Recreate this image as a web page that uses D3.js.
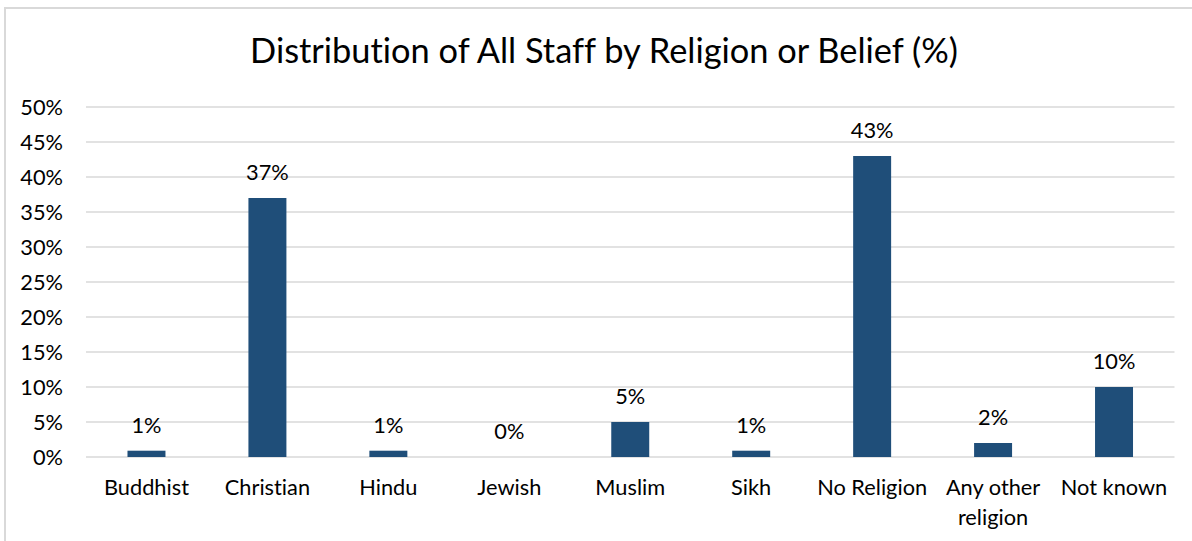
<!DOCTYPE html>
<html><head><meta charset="utf-8">
<script src="https://cdn.jsdelivr.net/npm/d3@7"></script>
<style>body{margin:0;background:#fff}svg{display:block}text{font-family:Lato,"Open Sans",sans-serif;fill:#000;font-variant-ligatures:none;font-feature-settings:"liga" 0}</style>
</head><body><svg id="c" width="1192" height="541"></svg>
<script>
const categories = ["Buddhist","Christian","Hindu","Jewish","Muslim","Sikh","No Religion","Any other religion","Not known"];
const values = [0.9, 37, 0.9, 0, 5, 0.9, 43, 2, 10];
const labels = ["1%","37%","1%","0%","5%","1%","43%","2%","10%"];
const yTicks = [0,5,10,15,20,25,30,35,40,45,50];
const title = "Distribution of All Staff by Religion or Belief (%)";

const svg = d3.select("#c");
svg.append("rect").attr("x",5).attr("y",8).attr("width",1300).attr("height",700)
  .attr("fill","#fff").attr("stroke","#d9d9d9").attr("stroke-width",2);

const m = {left:86, right:1174.5, top:107, bottom:457};
const x = d3.scaleBand().domain(categories).range([m.left, m.right]).paddingInner(0.686).paddingOuter(0.343);
const y = d3.scaleLinear().domain([0,50]).range([m.bottom, m.top]);

function fit(sel, target){
  const w = sel.node().getComputedTextLength();
  const fs = parseFloat(sel.attr("font-size"));
  sel.attr("font-size", fs*target/w);
  return fs*target/w;
}

const probe = svg.append("text").attr("font-size",100).text("Buddhist");
const labFs = fit(probe, 85);
probe.remove();

svg.append("g").selectAll("line").data(yTicks).join("line")
  .attr("x1",m.left).attr("x2",m.right)
  .attr("y1",d=>y(d)).attr("y2",d=>y(d))
  .attr("stroke","#d9d9d9").attr("stroke-width",1.5);

const yAxis = svg.append("g").attr("transform",`translate(${m.left},0)`)
  .call(d3.axisLeft(y).tickValues(yTicks).tickFormat(d=>d+"%").tickSize(0).tickPadding(23));
yAxis.select(".domain").remove();
yAxis.selectAll("text").attr("font-size",labFs).attr("font-family","Lato").attr("fill","#000").attr("dy","0.35em");

svg.append("g").selectAll("rect").data(values).join("rect")
  .attr("x",(d,i)=>x(categories[i])).attr("width",x.bandwidth())
  .attr("y",d=>y(d)).attr("height",d=>y(0)-y(d)).attr("fill","#1f4e79");

svg.append("g").selectAll("text").data(values).join("text")
  .attr("x",(d,i)=>x(categories[i])+x.bandwidth()/2).attr("y",d=>y(d)-18)
  .attr("text-anchor","middle").attr("font-size",labFs).text((d,i)=>labels[i]);

const xl = svg.append("g");
categories.forEach(c=>{
  const cx = x(c)+x.bandwidth()/2;
  const lines = c==="Any other religion" ? ["Any other","religion"] : [c];
  lines.forEach((t,j)=>{
    xl.append("text").attr("x",cx).attr("y",495+j*30).attr("text-anchor","middle")
      .attr("font-size",labFs).text(t);
  });
});

const tt = svg.append("text").attr("x",604).attr("y",63).attr("text-anchor","middle")
  .attr("font-size",30).text(title);
fit(tt, 708);
</script></body></html>
